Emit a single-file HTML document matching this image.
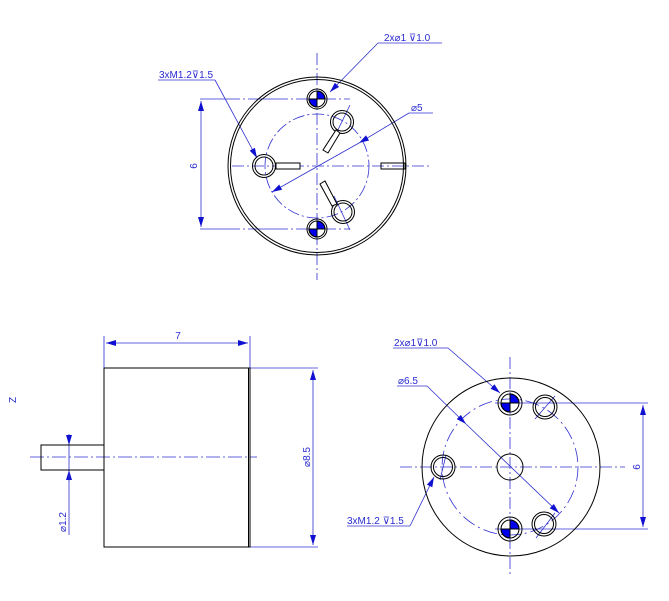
<!DOCTYPE html>
<html><head><meta charset="utf-8"><style>
html,body{margin:0;padding:0;background:#fff}
svg{display:block}
text{font-family:"Liberation Sans",sans-serif;font-size:10px;fill:#2a2ad0}
</style></head><body>
<svg width="669" height="601" viewBox="0 0 669 601" xmlns="http://www.w3.org/2000/svg">
<defs>
<marker id="a" viewBox="0 0 10 6" refX="10" refY="3" markerWidth="10" markerHeight="6" orient="auto-start-reverse" markerUnits="userSpaceOnUse"><path d="M0,0L10,3L0,6z" fill="#1010d0"/></marker>
</defs>
<g fill="none" stroke="#3030d0" stroke-width="0.8">
<!-- TOP VIEW -->
<line x1="317" y1="53" x2="317" y2="280" stroke-dasharray="12,3,2,3"/>
<line x1="232" y1="166" x2="432" y2="166" stroke-dasharray="12,3,2,3"/>
<circle cx="317" cy="166" r="52" stroke-dasharray="12,3,2,3"/>
<line x1="200" y1="99" x2="350" y2="99" stroke-dasharray="40,3,2,3"/>
<line x1="200" y1="229" x2="350" y2="229" stroke-dasharray="40,3,2,3"/>
<line x1="201" y1="101" x2="201" y2="227" marker-start="url(#a)" marker-end="url(#a)"/>
<polyline points="378,43 442,43"/>
<line x1="378" y1="43" x2="330" y2="92" marker-end="url(#a)"/>
<polyline points="158,80 215,80"/>
<line x1="215" y1="80" x2="257" y2="158" marker-end="url(#a)"/>
<polyline points="409,113 433,113"/>
<line x1="409" y1="113" x2="359" y2="143" marker-end="url(#a)"/>
<line x1="359" y1="143" x2="272" y2="192" marker-end="url(#a)"/>
<line x1="350" y1="105" x2="334" y2="138"/>
<line x1="350" y1="230" x2="334" y2="196"/>
<!-- BOTTOM RIGHT -->
<line x1="510" y1="357" x2="510" y2="577" stroke-dasharray="12,3,2,3"/>
<line x1="400" y1="467" x2="625" y2="467" stroke-dasharray="12,3,2,3"/>
<circle cx="510" cy="467" r="68" stroke-dasharray="14,4,2,4"/>
<line x1="495" y1="403" x2="648" y2="403"/>
<line x1="495" y1="529" x2="648" y2="529"/>
<line x1="643" y1="405" x2="643" y2="527" marker-start="url(#a)" marker-end="url(#a)"/>
<polyline points="393,348 448,348"/>
<line x1="448" y1="348" x2="500" y2="393" marker-end="url(#a)"/>
<polyline points="397,386 427,386"/>
<line x1="427" y1="386" x2="466" y2="424" marker-end="url(#a)"/>
<line x1="466" y1="424" x2="559" y2="513" marker-end="url(#a)"/>
<polyline points="347,526 410,526"/>
<line x1="410" y1="526" x2="434" y2="477" marker-end="url(#a)"/>
<line x1="555" y1="396" x2="535" y2="419"/>
<line x1="555" y1="513" x2="536" y2="538"/>
<line x1="446" y1="455" x2="440" y2="480"/>
<!-- SIDE VIEW -->
<line x1="30" y1="457" x2="257" y2="457" stroke-dasharray="14,3,2,3"/>
<line x1="104" y1="336" x2="104" y2="368"/>
<line x1="250" y1="336" x2="250" y2="368"/>
<line x1="106" y1="343" x2="248" y2="343" marker-start="url(#a)" marker-end="url(#a)"/>
<line x1="250" y1="368" x2="318" y2="368"/>
<line x1="250" y1="547" x2="318" y2="547"/>
<line x1="313" y1="370" x2="313" y2="545" marker-start="url(#a)" marker-end="url(#a)"/>
<line x1="69" y1="434" x2="69" y2="445" marker-end="url(#a)"/>
<line x1="69" y1="481" x2="69" y2="470" marker-end="url(#a)"/>
<line x1="69" y1="445" x2="69" y2="535"/>
</g>
<g fill="none" stroke="#000" stroke-width="1">
<circle cx="317" cy="166" r="89"/>
<circle cx="317" cy="166" r="86.5"/>
<circle cx="264" cy="166" r="11.5"/><circle cx="264" cy="166" r="9"/>
<circle cx="342" cy="122" r="11.5"/><circle cx="342" cy="122" r="9"/>
<circle cx="343" cy="212" r="11.5"/><circle cx="343" cy="212" r="9"/>
<rect x="276" y="163" width="24" height="6" fill="#fff"/>
<rect x="381" y="163" width="24" height="6"/>
<path d="M336,130 L340,133 L328,153 L323,150 Z" fill="#fff"/>
<path d="M337,204 L332,206 L320,184 L325,181 Z" fill="#fff"/>
<circle cx="317" cy="99" r="10"/><circle cx="317" cy="229" r="10"/>
<circle cx="511" cy="467" r="89"/>
<circle cx="510" cy="467" r="13"/>
<circle cx="545" cy="407" r="12"/><circle cx="545" cy="407" r="9.5"/>
<circle cx="544" cy="524" r="12"/><circle cx="544" cy="524" r="9.5"/>
<circle cx="443" cy="467" r="12"/><circle cx="443" cy="467" r="9.5"/>
<circle cx="510" cy="403" r="12"/><circle cx="510" cy="529" r="12"/>
<rect x="104" y="368" width="146" height="179"/>
<line x1="248.5" y1="368" x2="248.5" y2="547"/>
<rect x="41" y="445" width="63" height="25"/>
</g>
<g stroke="#000" stroke-width="1">
<path d="M317,99 L317,91 A8,8 0 0 1 325,99 Z" fill="#0000ee"/>
<path d="M317,99 L309,99 A8,8 0 0 0 317,107 Z" fill="#0000ee"/>
<circle cx="317" cy="99" r="8" fill="none"/>
<path d="M317,229 L317,221 A8,8 0 0 1 325,229 Z" fill="#0000ee"/>
<path d="M317,229 L309,229 A8,8 0 0 0 317,237 Z" fill="#0000ee"/>
<circle cx="317" cy="229" r="8" fill="none"/>
<path d="M510,403 L510,394 A9,9 0 0 1 519,403 Z" fill="#0000ee"/>
<path d="M510,403 L501,403 A9,9 0 0 0 510,412 Z" fill="#0000ee"/>
<circle cx="510" cy="403" r="9" fill="none"/>
<path d="M510,529 L510,520 A9,9 0 0 1 519,529 Z" fill="#0000ee"/>
<path d="M510,529 L501,529 A9,9 0 0 0 510,538 Z" fill="#0000ee"/>
<circle cx="510" cy="529" r="9" fill="none"/>
</g>
<text x="384" y="41">2x⌀1 ⊽1.0</text>
<text x="159" y="78">3xM1.2⊽1.5</text>
<text x="411" y="111">⌀5</text>
<text x="0" y="0" transform="translate(197,166) rotate(-90)" text-anchor="middle">6</text>
<text x="394" y="346">2x⌀1⊽1.0</text>
<text x="398" y="384">⌀6.5</text>
<text x="347" y="524">3xM1.2 ⊽1.5</text>
<text x="0" y="0" transform="translate(640,467) rotate(-90)" text-anchor="middle">6</text>
<text x="178" y="339" text-anchor="middle">7</text>
<text x="0" y="0" transform="translate(310,457) rotate(-90)" text-anchor="middle">⌀8.5</text>
<text x="0" y="0" transform="translate(66,522) rotate(-90)" text-anchor="middle">⌀1.2</text>
<text x="0" y="0" transform="translate(16,400) rotate(-90)" text-anchor="middle">Z</text>
</svg>
</body></html>
